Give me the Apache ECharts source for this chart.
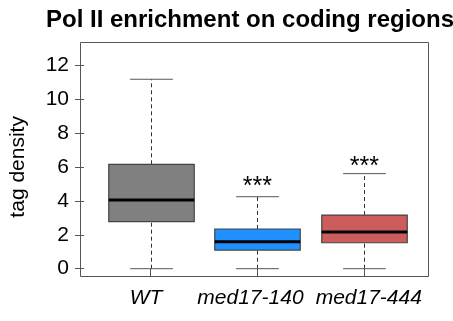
<!DOCTYPE html>
<html><head><meta charset="utf-8">
<script src="https://cdn.jsdelivr.net/npm/echarts@6/dist/echarts.min.js"></script>
<style>html,body{margin:0;padding:0;background:#fff}#c{width:453px;height:321px}</style>
</head><body><div id="c"></div>
<script>
const categories = ['WT', 'med17-140', 'med17-444'];
// [min, Q1, median, Q3, max]
const mins    = [0, 0, 0];
const q1s     = [2.77, 1.10, 1.53];
const medians = [4.05, 1.59, 2.16];
const q3s     = [6.15, 2.34, 3.16];
const maxs    = [11.16, 4.24, 5.60];
const fills   = ['#808080', '#1E90FF', '#CD5C5C'];
const stars   = ['', '***', '***'];
const starLevels = [null, 5.03, 6.21];
const yTicks = [0, 2, 4, 6, 8, 10, 12];

const FONT = 'Liberation Sans, Arial, Helvetica, sans-serif';
const labelPads = [[0, 9, 0, 0], [0, 14, 0, 0], [0, 0, 0, 9]];
const chart = echarts.init(document.getElementById('c'), null, {renderer: 'canvas'});
const boxData = categories.map((c, i) => [i, mins[i], q1s[i], medians[i], q3s[i], maxs[i]]);
const starData = categories.map((c, i) => [i, starLevels[i] == null ? 0 : starLevels[i]]);
const catItems = categories.map((c, i) => ({value: c, textStyle: {padding: labelPads[i]}}));

chart.setOption({
  animation: false,
  title: {
    text: 'Pol II enrichment on coding regions',
    left: 41, top: 3,
    textStyle: {fontFamily: FONT, fontSize: 24, fontWeight: 'bold', color: '#000'}
  },
  grid: [
    {left: 80.5, top: 42.5, width: 348, height: 234, show: true, borderColor: '#555', borderWidth: 1, backgroundColor: 'transparent'},
    {left: 93.7, right: 35.3, top: 65, bottom: 52.3}
  ],
  xAxis: [
    {gridIndex: 0, type: 'value', show: false, min: 0, max: 1},
    {gridIndex: 1, type: 'category', data: catItems, offset: 7.8,
     axisLine: {show: false},
     axisTick: {show: true, alignWithLabel: true, length: 8, lineStyle: {color: '#555'}},
     axisLabel: {interval: 0, hideOverlap: false, margin: 11, fontFamily: FONT, fontSize: 21, fontStyle: 'italic', color: '#000'}}
  ],
  yAxis: [
    {gridIndex: 0, type: 'value', show: false, min: 0, max: 1},
    {gridIndex: 1, type: 'value', min: 0, max: 12, interval: 2, offset: 13.2,
     name: 'tag density', nameLocation: 'middle', nameRotate: 90, nameGap: 55,
     nameTextStyle: {fontFamily: FONT, fontSize: 21, color: '#000', padding: [0, 0, 0, 0]},
     axisLine: {show: false},
     axisTick: {show: true, length: 9, lineStyle: {color: '#555'}},
     splitLine: {show: false},
     axisLabel: {margin: 15, fontFamily: FONT, fontSize: 21, color: '#000',
       formatter: v => yTicks.includes(v) ? String(v) : ''}}
  ],
  series: [
    {
      type: 'custom', xAxisIndex: 1, yAxisIndex: 1,
      data: boxData,
      encode: {x: 0, y: [1, 2, 3, 4, 5]},
      renderItem: function (params, api) {
        const i = api.value(0);
        const band = api.size([1, 0])[0];
        const bw = band * 0.8, cw = band * 0.4;
        const pMin = api.coord([i, api.value(1)]);
        const pQ1 = api.coord([i, api.value(2)]);
        const pMed = api.coord([i, api.value(3)]);
        const pQ3 = api.coord([i, api.value(4)]);
        const pMax = api.coord([i, api.value(5)]);
        const x = Math.round(pMin[0]) + 0.5;
        const dash = {stroke: '#333', lineWidth: 1, lineDash: [4, 3]};
        const solid = {stroke: '#555', lineWidth: 1};
        return {type: 'group', children: [
          {type: 'line', shape: {x1: x, y1: pQ3[1], x2: x, y2: pMax[1]}, style: dash},
          {type: 'line', shape: {x1: x, y1: pMin[1], x2: x, y2: pQ1[1]}, style: dash},
          {type: 'line', shape: {x1: x - cw / 2, y1: pMax[1], x2: x + cw / 2, y2: pMax[1]}, style: solid},
          {type: 'line', shape: {x1: x - cw / 2, y1: pMin[1], x2: x + cw / 2, y2: pMin[1]}, style: solid},
          {type: 'rect', shape: {x: x - bw / 2, y: pQ3[1], width: bw, height: pQ1[1] - pQ3[1]},
           style: {fill: fills[i], stroke: '#444', lineWidth: 1.2}},
          {type: 'line', shape: {x1: x - bw / 2, y1: pMed[1], x2: x + bw / 2, y2: pMed[1]},
           style: {stroke: '#000', lineWidth: 3}}
        ]};
      }
    },
    {
      type: 'custom', xAxisIndex: 1, yAxisIndex: 1,
      data: starData,
      encode: {x: 0, y: 1},
      renderItem: function (params, api) {
        const i = api.value(0);
        if (!stars[i]) return null;
        const p = api.coord([i, api.value(1)]);
        return {type: 'text', x: p[0], y: p[1] + 4,
          style: {text: stars[i], fontFamily: FONT, fontSize: 25, fill: '#000',
                  align: 'center', verticalAlign: 'middle'}};
      }
    }
  ]
});
</script></body></html>
